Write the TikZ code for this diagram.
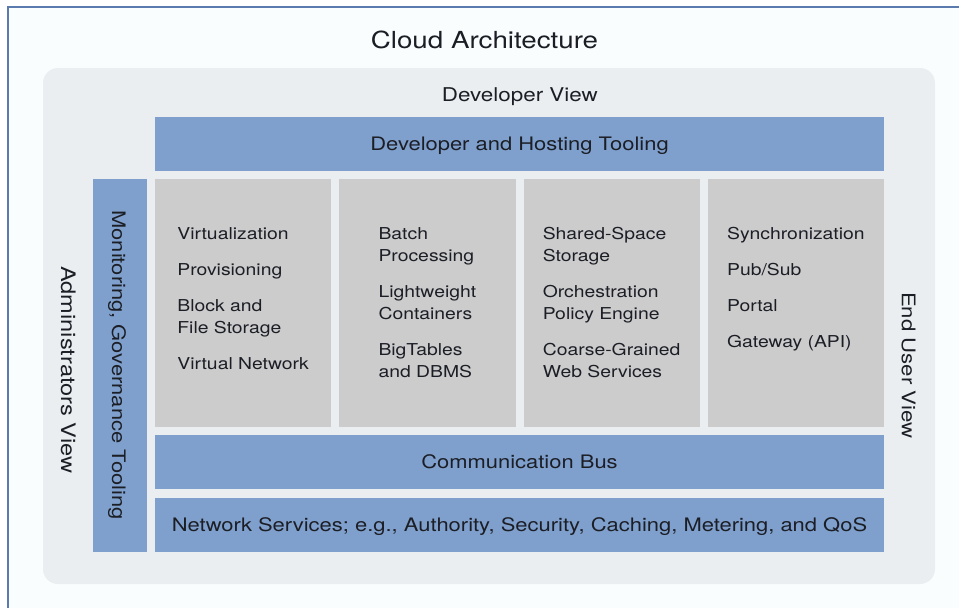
\documentclass[tikz,border=0pt]{standalone}
\usepackage{fontspec}
\setmainfont{TeX Gyre Heros}[FakeStretch=1.18]
\usetikzlibrary{positioning}

\definecolor{barblue}{HTML}{7FA0CC}
\definecolor{boxgray}{HTML}{CCCCCC}
\definecolor{panelgray}{HTML}{EBEEF0}
\definecolor{framefill}{HTML}{FAFDFD}
\definecolor{frameline}{HTML}{5B7BAE}
\definecolor{inktext}{HTML}{1C1E26}

\tikzset{
  bluebar/.style={fill=barblue,inner sep=0,outer sep=0,text=inktext,text height=13.4pt,text depth=0pt,
    font=\fontsize{18.6}{22}\selectfont},
  graybox/.style={fill=boxgray,inner sep=0,outer sep=0,minimum width=176.25pt,minimum height=248pt},
  itemlist/.style={align=left,inner sep=0,text=inktext,font=\fontsize{16.4}{22}\selectfont},
  viewlabel/.style={inner sep=0,text=inktext,text height=13.5pt,text depth=0pt,font=\fontsize{18.8}{22}\selectfont}
}

\begin{document}
\begin{tikzpicture}[x=1pt,y=-1pt]

\useasboundingbox (0,0) rectangle (959,608);
\fill [white] (0,0) rectangle (959,608);

% frame and panel
\fill [framefill] (8,7) rectangle (959,608);
\draw [frameline,line width=1.5] (8,608) -- (8,7) -- (959,7);
\fill [panelgray,rounded corners=15] (43,68) rectangle (935,584);

\node [inner sep=0,text=inktext,anchor=base,font=\fontsize{23.5}{28}\selectfont] (title) at (484.5,48.3) {Cloud Architecture};
\node [inner sep=0,text=inktext,anchor=base,font=\fontsize{19}{22}\selectfont] (devview) at (519.8,101.7) {Developer View};

\node [bluebar,minimum width=729pt,minimum height=54pt] (devbar) at (519.5,144) {Developer and Hosting Tooling};
\node [bluebar,minimum width=373pt,minimum height=54pt,rotate=-90] (monbar) at (120,365.5) {};
\node [bluebar,rotate=-90] (montext) at (118.8,365) {Monitoring, Governance Tooling};

% core services
\node [graybox] (core1) at (243.125,303) {};
\node [graybox,right=8pt of core1] (core2) {};
\node [graybox,right=8pt of core2] (core3) {};
\node [graybox,right=8pt of core3] (core4) {};

\node [itemlist,below=48pt of core1.north] (list1) {Virtualization\\[14pt]Provisioning\\[14pt]Block and\\File Storage\\[14pt]Virtual Network};
\node [itemlist,below=48pt of core2.north] (list2) {Batch\\Processing\\[14pt]Lightweight\\Containers\\[14pt]BigTables\\and DBMS};
\node [itemlist,below=48pt of core3.north] (list3) {Shared-Space\\Storage\\[14pt]Orchestration\\Policy Engine\\[14pt]Coarse-Grained\\Web Services};
\node [itemlist,below=48pt of core4.north] (list4) {Synchronization\\[14pt]Pub/Sub\\[14pt]Portal\\[14pt]Gateway (API)};

\node [bluebar,minimum width=729pt,minimum height=54pt] (commbus) at (519.5,462) {Communication Bus};
\node [bluebar,minimum width=729pt,minimum height=54pt] (netbar) at (519.5,525) {Network Services; e.g., Authority, Security, Caching, Metering, and QoS};

\node [viewlabel,rotate=-90,font=\fontsize{20}{22}\selectfont] (adminview) at (67.8,370) {Administrators View};
\node [viewlabel,rotate=-90] (userview) at (908.7,365.3) {End User View};

\end{tikzpicture}
\end{document}
